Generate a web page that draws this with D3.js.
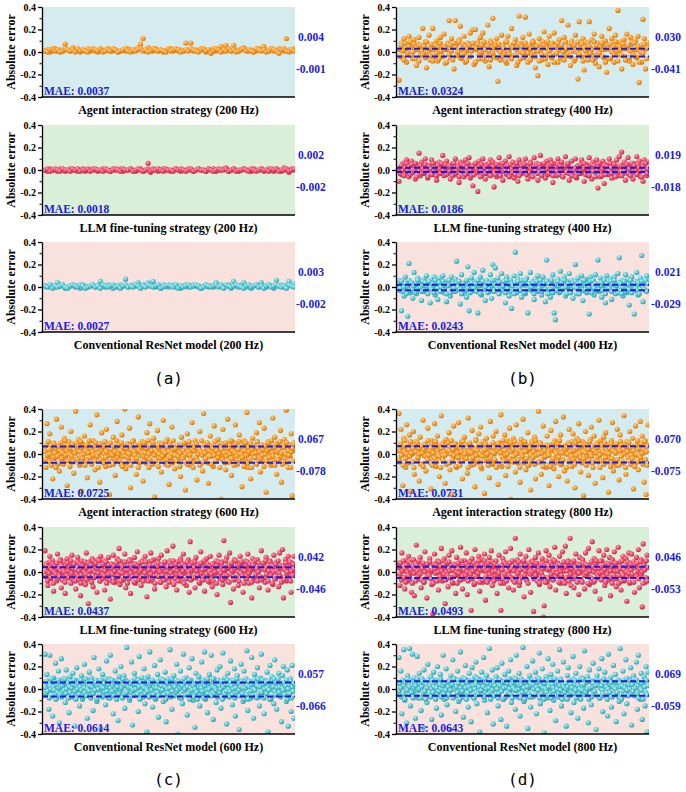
<!DOCTYPE html>
<html>
<head>
<meta charset="utf-8">
<script src="https://cdn.jsdelivr.net/npm/d3@7/dist/d3.min.js"></script>
<style>
  body { margin: 0; background: #fff; }
  text { font-family: "Liberation Serif", "Times New Roman", serif; font-weight: bold; }
</style>
</head>
<body>
<svg id="chart"></svg>
<script>
"use strict";

// absolute error per sample, in units of 0.01
// "...Core" lists hold the samples inside the dense band around zero
var agent200 = [1,2,0,1,3,1,2,1,7,2,1,4,1,2,0,2,1,3,1,2,1,0,2,1,2,3,1,1,2,0,1,2,1,3,2,1,2,4,7,12,1,4,2,1,3,1,2,0,1,2,3,1,2,1,2,1,8,2,8,1,2,1,3,2,0,1,2,3,1,2,5,1,6,2,1,6,2,1,3,4,2,1,2,0,1,3,2,5,1,2,3,1,2,3,2,1,12,2,1,3];
var agent200Core = [1,0,2,3,1,2,0,1,3,2,1,2,0,3,1,2,1,0,2,3,2,1,3,0,1,2,1,3,2,0,1,2,3,1,0,2,1,2,3,1,2,0,1,3,2,1,2,1,0,3,1,2,3,2,0,1,2,1,3,2,1,0,2,3,1,2,-1,1,3,2,0,2,1,3,1,2,0,1,2,3,1,2,1,0,3,2,1,2,0,1,3,2,1,-1,2,3,1,0,2,1];
var llm200 = [0,-1,1,0,0,-1,1,0,-1,0,1,0,0,-1,0,1,-1,0,0,1,0,-1,0,1,0,0,-1,1,0,0,1,-1,0,0,1,0,-1,0,1,-1,0,6,-2,1,0,-1,0,1,0,0,-1,0,1,0,-1,0,0,1,0,-1,0,1,0,0,-1,1,0,1,-1,0,0,1,2,-1,0,1,0,-1,0,1,0,0,-1,1,0,0,1,-1,0,1,0,-1,1,0,-1,2,0,-2,1,0];
var llm200Core = [0,1,-1,0,1,0,-1,1,0,0,-1,1,0,1,-1,0,0,1,-1,0,1,0,0,-1,1,0,-1,0,1,0,-1,1,0,0,1,-1,0,1,0,-1,0,1,-1,0,0,1,0,-1,1,0,0,-1,1,0,1,0,-1,0,1,-1,0,1,0,0,-1,1,0,-1,0,1,0,0,1,-1,0,1,-1,0,0,1,0,-1,1,0,-1,0,1,0,0,-1,1,0,1,-1,0,0,1,-1,0,1];
var resnet200 = [1,0,2,1,0,4,1,2,-1,0,1,2,0,1,-1,2,1,0,1,2,0,1,5,1,0,2,1,-1,1,0,2,1,7,0,1,2,1,4,0,2,1,4,1,5,0,1,-1,2,1,0,1,2,0,1,-1,1,2,0,1,2,1,0,-1,1,2,0,1,0,4,1,2,0,1,2,-1,5,1,0,2,4,1,0,-1,1,2,0,4,1,0,2,1,-1,6,1,2,0,1,5,2,3];
var resnet200Core = [1,0,2,-1,1,0,1,2,0,-1,1,2,1,0,2,1,-1,0,1,2,0,1,-1,2,1,0,1,2,0,1,-1,1,2,0,1,0,2,1,-1,1,0,2,1,0,1,2,-1,0,1,2,1,0,2,-1,1,0,1,2,0,1,2,1,-1,0,2,1,0,1,2,0,1,-1,2,1,0,1,2,1,0,-1,1,2,0,1,2,0,1,-1,1,2,0,1,2,1,0,1,-1,2,1,0];

var agent400 = [-25,3,8,-5,12,1,-9,6,14,-2,4,-6,11,2,-12,7,13,-3,5,21,-1,9,-14,3,15,-7,2,21,6,-4,10,-8,1,13,-3,5,16,-10,2,8,
  28,-5,12,4,-15,28,7,-2,11,23,-6,3,14,-9,1,8,-4,17,5,20,-11,20,2,9,-6,13,-1,17,4,-8,6,24,-13,10,1,30,-4,7,12,-26,
  3,-7,15,5,-2,9,-10,14,1,-5,21,6,-3,11,-12,4,32,-6,8,13,-1,31,5,-9,16,2,-4,10,7,-14,3,-21,12,1,-7,9,18,-3,6,-11,
  14,2,-5,8,17,-2,4,-9,11,5,28,-6,13,1,-3,24,7,-12,10,3,-8,15,2,-24,27,6,-4,12,-16,9,1,-7,27,4,11,-3,16,-10,5,8,
  -13,2,14,7,-5,10,-18,3,21,-6,12,1,-9,15,6,37,-2,9,-15,4,11,-4,16,3,-8,13,7,-11,2,10,-5,14,-27,6,-9,29,12,-15,3,8];
var agent400Core = [2,-4,6,1,-7,8,3,-1,5,9,-3,0,7,-6,4,2,-8,6,1,-2,5,-5,9,0,3,-3,7,-8,2,6,-1,4,-6,8,1,-4,5,3,-9,7,
  -2,6,1,-7,8,4,-3,0,9,-5,2,7,-1,5,-8,3,6,-4,1,8,4,-9,3,7,-2,0,6,-6,9,2,-3,5,1,-7,8,-1,4,6,-5,2,
  7,0,-4,5,3,-8,9,1,-2,6,-6,4,8,-3,2,-9,7,0,5,-1,-5,8,2,-1,6,-7,3,9,0,-4,5,1,-8,7,-2,4,6,-6,3,9,
  1,-3,7,4,-9,5,-1,8,2,-5,6,0,-7,9,3,-2,4,-4,8,1,6,-6,0,9,-2,3,7,-8,4,1,-3,8,5,-1,2,-7,9,-5,6,0,
  -1,5,8,-4,2,-9,6,3,-6,7,0,4,-2,9,1,-8,5,2,-3,7,3,-7,4,6,-5,1,9,-2,8,-4,2,5,-9,0,6,-1,7,3,-6,4];
var llm400 = [-10,2,-4,6,1,-3,9,0,-6,4,8,-2,3,-8,5,1,15,-5,7,0,-3,10,2,-7,4,-1,9,-4,6,1,-9,3,7,-2,5,13,-5,1,8,-3,
  4,-8,2,6,-1,10,-4,3,-11,7,0,5,-6,9,2,-3,11,-7,4,-14,1,6,-2,-19,8,3,-5,10,0,-8,5,2,-4,9,-1,7,-15,3,-6,4,
  11,-2,6,-9,1,8,-4,3,12,-5,2,7,-7,0,5,-10,9,1,-3,6,-2,10,4,-8,1,7,-5,3,11,-1,6,-9,2,13,-4,5,0,-7,8,3,
  -3,9,1,-11,6,2,-5,10,-1,4,7,-6,3,12,-2,5,-9,1,8,-4,2,10,-7,4,0,-3,9,6,-10,1,5,-5,11,2,-8,7,3,-2,9,-16,
  4,-6,1,8,-12,5,2,-4,10,0,-7,6,3,-1,9,-5,12,4,16,-3,7,-9,2,11,-4,5,1,-8,6,3,12,-2,8,-6,4,-10,9,1,-5,7];
var llm400Core = [1,-3,4,0,-5,2,6,-1,3,-4,5,-2,0,6,-6,2,-1,4,-3,1,-2,5,0,-6,3,1,-4,6,-1,2,-5,4,1,-3,6,0,-2,5,-4,3,
  4,-1,2,-5,6,-3,0,3,-6,1,5,-2,4,-4,2,6,-1,0,-5,3,-4,6,1,-2,3,-6,5,0,2,-3,4,-1,6,-5,1,3,-2,-4,5,0,
  2,-5,3,6,-1,0,-3,4,-6,5,1,-2,3,-4,6,2,-5,0,4,-1,5,0,-4,2,-2,6,1,-6,3,-1,4,-3,5,2,-5,0,6,-2,1,-4,
  -3,4,6,-5,0,2,-1,5,-4,3,1,-6,2,4,-2,6,-3,1,-5,0,0,-6,2,4,-3,5,-1,1,6,-4,3,-2,-5,2,5,-1,4,-6,0,3,
  6,-2,-5,1,4,-4,3,0,-1,6,-3,2,5,-6,1,-2,3,4,-5,2,-1,3,5,-3,1,-5,6,-2,4,0,-4,5,2,-1,-6,3,0,6,-3,1];
var resnet400 = [6,-3,-21,4,-8,9,1,-26,21,-5,3,-10,13,2,-6,8,-2,5,-12,1,7,-4,10,-1,4,-14,6,0,9,-7,2,-11,5,8,-3,10,-5,1,-13,6,
  3,-8,9,0,-4,7,23,-2,5,-15,11,1,-6,4,-9,18,-21,2,8,-3,13,-1,5,-23,3,9,-7,15,0,-12,6,2,-4,11,-10,20,4,17,-2,8,
  -6,1,12,-3,5,-14,9,2,-8,6,-19,3,10,31,-5,7,-1,12,-9,4,2,-6,8,-23,1,13,-3,5,-11,7,0,10,-4,3,-7,9,2,-13,24,-2,
  6,-9,4,11,-23,-29,1,7,-5,14,3,-2,9,-8,5,0,12,-4,6,-10,2,20,-6,8,1,-3,10,-12,4,7,-5,3,-24,9,-1,6,-7,11,2,24,
  -4,8,-9,1,5,-14,10,3,-2,7,-11,4,9,-6,2,12,26,-3,6,-8,1,11,-5,7,-16,3,9,-1,-24,5,13,-7,2,8,28,-13,4,-3,10,6];
var resnet400Core = [2,-1,5,-4,0,3,-6,1,6,-3,4,-2,1,-5,3,6,-1,0,-4,5,-3,4,1,-6,5,0,-2,3,-5,6,2,-1,4,-4,0,5,-3,2,-6,1,
  6,-5,2,3,-1,-4,4,0,5,-2,-6,3,1,-3,6,-1,2,-5,4,0,-1,3,-4,6,1,-6,2,5,-2,0,4,-5,3,-3,1,6,-4,2,0,-2,
  4,0,-3,1,5,-5,6,-1,2,-4,3,1,-6,4,-2,5,0,-3,6,2,-5,6,1,-2,3,-1,0,4,-6,2,5,-3,-1,6,-4,1,3,-2,5,-6,
  3,-2,6,-5,0,2,-3,5,1,-4,4,-1,6,0,-6,3,2,-5,1,4,0,5,-1,3,-6,4,1,-3,6,-2,2,-4,0,5,-5,6,-1,3,-3,1,
  -2,1,4,-3,6,-6,3,0,-1,5,-4,2,6,-2,1,-5,4,3,-6,0,5,-4,0,2,-2,6,-5,1,3,-1,-3,4,-6,2,5,0,-2,6,-4,3];

var agent600 = [3,-12,27,-5,1,18,-2,6,-22,10,-4,2,31,-9,5,-15,0,24,-7,4,14,-3,8,-28,1,11,-6,20,3,-1,-17,7,38,-4,2,13,-10,5,-33,9,
  0,16,-5,4,-21,8,2,26,-8,1,12,-3,-14,6,35,-2,9,-25,3,19,-6,1,7,-11,22,4,-1,-36,10,3,-4,15,0,-19,6,29,-3,8,2,-9,
  17,-2,5,40,-13,1,9,-6,23,-30,4,0,12,-5,7,-18,2,33,-8,6,-1,11,-24,3,8,-4,19,1,-12,27,5,-7,2,14,-38,6,0,21,-3,10,
  4,-16,7,30,-2,1,-9,13,3,-27,9,-5,24,0,6,-13,2,42,-6,8,1,-20,15,3,-4,9,-32,5,18,-1,7,-10,2,28,-7,4,12,-3,-23,0,
  6,20,-8,2,-15,36,1,-5,10,3,-26,8,16,-2,4,-11,25,0,-6,7,13,-3,2,-40,9,22,-1,5,-14,1,31,-7,8,3,-19,11,0,-4,26,6,
  -9,4,17,-2,1,-29,7,12,-5,3,37,-12,0,9,-22,5,14,-1,2,-8,19,6,-3,28,-16,1,8,-6,23,4,-34,0,11,-2,7,-10,3,32,-5,15,
  2,-18,9,1,-4,21,-25,6,0,13,-7,39,4,-12,8,-2,18,-37,3,10];
var agent600Core = [2,-5,8,-1,11,-7,0,4,-10,6,-3,9,1,-12,5,-2,7,-8,3,10,-4,1,-9,6,12,-1,3,-6,8,0,-11,5,-2,9,-7,4,1,-3,10,-5,
  7,-8,2,11,-1,-4,6,0,-10,3,8,-6,1,12,-3,5,-9,2,-1,7,-6,10,4,-2,-12,1,9,-5,3,6,-8,0,11,-3,2,-7,8,5,-10,1,
  4,-1,-9,7,2,-5,12,-3,0,8,-6,3,10,-11,1,6,-2,-8,5,9,-3,0,7,-10,4,11,-6,2,-1,8,-4,5,-12,3,9,-7,1,6,-2,10,
  1,-8,5,-3,12,0,-5,7,3,-9,10,-1,4,-6,2,8,-11,0,6,-4,9,-2,3,-7,1,11,-5,6,-10,2,7,-3,0,-8,12,4,-1,5,-6,8,
  -2,6,-11,1,8,-4,3,10,-7,0,5,-9,2,11,-1,-5,7,4,-12,3,6,-3,9,-6,0,4,-10,2,12,-1,-7,8,1,-4,5,10,-8,3,-2,7,
  -9,2,5,-1,11,-6,3,8,-3,0,-12,6,4,-5,9,1,-8,10,-2,2,5,-7,0,12,-4,3,7,-10,1,9,-2,-6,4,11,-5,0,8,-3,6,-11,
  3,10,-1,-8,6,2,-5,9,-12,4,0,7,-3,1,-9,11,5,-6,2,-4,8,-1,4,-11,7,0,-6,3,10,-3,5,-8,12,1,-2,6,-10,9,-5,2,
  -5,4,11,-2,1,-9,8,6,-4,0,10,-7,3,-1,7,-12,2,5,-6,9];
var llm600 = [19,-4,8,-12,2,14,-6,0,10,-17,5,1,-8,16,3,-2,11,-14,6,-1,9,-19,4,12,-5,1,7,-10,15,2,-3,8,-15,0,13,-7,4,-21,10,1,
  -2,6,-11,17,3,-28,9,-5,1,12,-13,4,7,-1,-18,11,2,-8,14,5,-3,10,-16,1,8,-6,13,3,-24,7,-2,15,0,-9,5,12,-4,21,-11,2,
  9,-7,3,16,-14,1,6,-3,11,-19,4,8,-1,13,-10,2,18,-5,7,0,-12,10,3,-6,14,1,-22,5,9,-2,17,-8,4,11,-15,0,6,-4,12,2,
  -9,15,1,-5,8,3,-13,19,0,-7,10,4,-2,23,-11,6,1,-16,9,3,-4,12,-8,2,16,-1,7,-12,5,11,-18,27,0,-6,9,3,-14,13,-2,6,
  1,-10,18,4,-5,8,-17,2,12,-3,6,-9,14,0,-13,7,3,-1,10,-20,5,15,-6,2,9,-11,28,1,-4,13,-8,3,17,-27,6,0,-15,11,2,-5,
  8,-12,4,14,-2,7,-18,1,10,-6,3,16,-10,0,5,-23,12,2,-7,9,-3,11,1,-14,6,19,-5,3,8,-9,13,0,-16,4,10,-2,7,-11,15,1,
  -6,9,2,-13,17,-4,5,20,-23,3,11,-8,1,14,-3,6,-18,8,0,14];
var llm600Core = [-3,6,1,-8,4,-1,9,-5,2,7,-10,0,5,-2,8,-6,3,-4,10,1,5,-7,2,0,-9,6,-3,8,1,-5,4,10,-1,-6,3,7,-8,2,-2,9,
  -4,1,7,-10,3,5,-6,0,9,-2,-7,4,8,-3,1,6,-9,2,10,-5,0,8,-4,3,-1,10,-8,5,2,-6,7,-3,1,9,-10,4,-2,6,-7,3,
  7,-2,-9,5,1,-5,8,3,-3,10,0,-8,6,-1,4,-6,9,2,-4,-10,2,-6,10,-1,6,-4,3,-9,7,1,-3,5,-7,8,0,-5,2,9,-8,4,
  -1,9,-5,4,-8,2,6,-2,10,-6,3,1,-10,7,-3,5,8,-4,0,-9,6,-3,3,-7,9,0,-5,1,4,-9,8,-1,5,-4,10,2,-6,7,-2,1,
  -8,4,-2,10,-4,7,1,-10,5,3,-6,9,0,-3,6,-7,2,8,-5,4,9,-5,1,-3,6,-9,4,8,-1,2,-7,10,-4,3,-2,7,-8,0,5,-6,
  -2,7,-8,3,0,5,-10,6,9,-4,1,-1,8,-7,4,2,-5,10,-3,6,4,-9,6,-2,8,1,-4,-7,3,10,-6,5,0,-8,7,-1,9,-3,2,-10,
  1,5,-6,9,-3,-1,7,2,-9,4,6,-5,10,-2,3,-8,0,8,-4,5,-7,3,8,-5,2,10,-2,4,-8,1,9,-3,6,-10,5,0,-6,7,1,-4,
  10,-1,-4,6,-9,3,5,-7,2,8,-2,0,4,-6,9,-8,1,-3,7,3];
var resnet600 = [31,-5,13,2,-18,30,7,-1,-24,10,4,23,-8,1,16,-30,6,27,-3,9,2,-12,17,0,5,-21,11,3,-7,14,1,-33,8,19,-4,6,-15,2,12,-9,
  4,22,-2,7,-26,1,15,-6,10,3,-19,28,0,8,-11,5,18,-3,-35,6,13,-1,4,-14,25,2,-8,9,30,-4,1,-22,7,16,-2,5,-28,11,0,20,
  -6,3,12,-17,8,37,-1,6,-10,2,24,-32,4,14,-5,9,1,-20,29,3,-7,10,0,18,-13,5,-38,11,2,33,-4,7,-16,1,21,-9,6,13,-25,4,
  26,-2,8,-11,3,15,-29,1,9,-6,35,4,-18,0,12,-3,7,22,-40,5,-8,16,2,-13,31,6,-1,10,-23,3,19,-5,8,27,-10,1,-34,14,4,-2,
  11,-15,5,24,-4,0,33,-9,7,-21,2,13,-6,30,1,-27,9,4,-12,17,-3,6,20,-17,1,32,-7,10,3,-31,14,0,-5,25,8,-14,2,18,-24,5,
  12,-2,-36,7,22,1,-11,16,-4,9,34,-19,3,6,-8,28,0,-26,13,4,-6,19,2,-15,10,31,-3,5,-22,8,1,15,-38,4,21,-9,11,0,-13,26,
  3,-18,7,14,-5,2,-29,12,20,-1,6,-11,17,-33,4,9,-20,21,1,-26];
var resnet600Core = [1,-4,7,-2,5,-8,3,0,9,-6,2,-1,6,-9,4,-3,8,1,-5,2,-7,3,6,-1,9,-4,0,5,-8,2,-3,7,1,-6,4,8,-2,-9,3,0,
  5,-5,2,8,-1,-7,4,1,-3,9,-6,0,6,-2,3,-8,7,2,-4,5,-1,6,-9,3,0,4,-5,8,2,-7,1,5,-3,9,-2,-6,4,7,-8,1,
  8,-2,3,-6,5,0,-9,2,6,-4,7,-1,1,-8,9,3,-5,4,-3,6,2,-8,5,1,-3,7,-1,-6,9,0,4,-5,8,2,-9,6,-2,3,-7,1,
  -4,9,0,-2,6,-7,3,5,-1,8,-5,2,-8,4,1,-3,7,-6,0,9,3,-1,8,-5,2,-9,6,0,-4,5,1,-7,9,-2,4,-6,2,8,-3,-1,
  7,-6,1,4,-8,3,-2,9,0,-5,6,2,-4,8,-9,1,5,-1,3,-7,0,5,-3,-9,7,2,-6,4,1,-2,8,-8,3,6,-1,9,-4,0,5,-5,
  -6,2,9,-4,1,-1,5,-7,8,3,-3,0,7,-9,2,6,-5,4,-2,8,4,-7,-2,6,3,-5,0,8,-8,1,9,-3,5,-1,-6,2,7,-4,1,-9,
  6,1,-5,3,-9,7,2,-2,4,-6,0,8,-1,5,-8,3,9,-7,2,-3,-3,8,4,-8,0,6,-4,1,7,-1,-9,3,5,-6,2,9,-2,-5,6,1,
  9,-3,2,-7,5,1,-1,6,-5,3,8,-9,0,4,-4,7,-8,2,-2,5];

var agent800 = [36,-7,22,3,-28,14,1,-12,26,5,-2,17,-33,8,0,20,-18,4,11,-5,2,-24,15,6,-9,30,-1,9,-15,3,23,-6,1,-31,12,4,-3,27,-11,7,
  16,0,-20,5,34,-4,10,2,-26,13,-8,1,19,-14,6,-36,3,25,-2,9,-12,4,28,-6,1,11,-22,7,15,-3,2,-17,32,0,8,-10,21,-5,3,-29,
  13,5,-7,18,-1,24,-13,2,9,-35,6,14,-4,1,-21,29,3,-9,16,0,-6,20,4,-27,10,2,35,-11,7,-2,17,-19,1,12,-5,23,-40,6,3,14,
  8,-16,26,1,-8,5,-25,13,0,31,-4,9,-14,2,19,-10,6,-32,11,4,-1,15,-22,7,3,38,-7,10,-18,2,25,-3,5,-12,16,1,-28,8,21,-6,
  4,-13,12,29,-2,6,-20,1,17,-9,3,33,-15,7,0,-24,10,22,-4,5,-11,18,2,-30,9,14,-5,27,1,-16,6,11,-37,3,20,-2,8,-19,4,13,
  24,-8,1,16,-26,5,10,-3,30,-12,2,7,-21,15,0,19,-6,3,-34,9,-4,12,28,-15,6,1,-10,22,4,-23,17,0,8,-7,34,2,-18,11,5,-3,
  20,-9,3,14,-31,7,25,-1,10,-14,4,29,-6,16,1,-25,12,-36,8,26];
var agent800Core = [-5,3,9,-1,6,-10,2,12,-4,0,7,-8,4,-2,11,1,-7,5,-12,8,2,-6,10,-3,0,5,-9,7,1,-11,4,8,-2,6,-5,12,-1,3,-8,9,
  -10,1,6,-4,11,-7,3,0,-2,8,-12,5,9,-6,2,-1,7,-9,4,10,3,-8,0,12,-5,4,-1,9,-11,6,1,-3,7,-10,5,2,-6,11,-2,0,
  8,-4,5,-12,2,10,-7,1,6,-3,-9,4,12,-1,3,-6,8,0,-11,7,-2,11,-6,4,9,-1,0,-10,5,7,-4,2,-8,10,1,-5,6,-12,3,9,
  5,-9,1,7,-3,12,-6,3,-1,8,0,-11,6,-4,10,2,-7,4,-2,11,-7,0,8,-5,3,-12,9,1,-2,6,-8,11,2,-4,7,-10,4,5,-1,-6,
  10,-3,2,-9,12,-1,5,-7,0,4,9,-5,1,-11,6,3,-2,8,-10,1,-1,7,-11,3,5,-4,10,-8,2,0,-6,9,-3,12,-9,4,1,-5,7,6,
  4,-12,6,0,-7,8,2,-2,11,-5,3,-9,10,-1,5,-6,12,0,-3,8,-8,2,-4,9,1,-10,7,4,-6,11,0,-2,6,-12,3,8,-5,1,9,-7,
  6,-1,12,-6,4,2,-9,10,-3,1,7,-7,0,5,-11,9,-4,3,-8,2,1,9,-5,5,-10,3,11,-2,8,-8,4,0,-12,7,2,-3,10,-6,6,-1,
  -4,6,3,-11,8,0,-7,12,-1,5,-3,9,1,-9,4,11,-5,2,-10,7];
var llm800 = [8,-12,3,17,-5,1,-15,10,2,-8,14,-3,6,-18,0,11,-21,4,24,-6,9,-2,13,-14,5,1,-9,18,3,-23,7,-4,12,0,-11,-37,6,16,-7,2,
  10,-16,4,-1,21,-8,3,12,-28,0,7,-13,15,2,-5,19,-10,6,1,-19,13,-3,8,-7,22,1,-15,5,10,-2,17,-20,4,9,-6,-34,12,2,-11,20,
  0,7,-4,14,-17,3,11,-9,1,16,-25,6,2,-7,13,-1,19,-12,5,9,-3,10,-19,4,15,-6,-34,2,12,-10,6,18,-2,8,-14,1,21,-5,9,-16,
  3,30,-8,11,0,-12,16,5,-4,9,-22,2,14,-7,7,20,-1,-18,10,4,-35,6,13,-3,1,17,-11,8,-6,12,-40,-30,4,19,-9,2,15,-13,0,7,
  11,-5,22,-16,3,8,-2,14,-10,5,18,-7,1,23,-19,6,10,-4,30,-12,2,9,-14,4,16,-1,7,-20,13,0,-8,11,3,-15,17,5,-3,21,-11,6,
  1,27,-9,12,-17,4,8,-5,19,-24,2,10,-2,15,-12,6,20,0,-7,13,-21,3,11,-6,18,1,-13,7,22,-3,9,-16,4,14,-8,0,12,-26,5,17,
  -10,2,16,-4,9,-18,6,13,-1,20,-14,3,11,-31,25,8,-9,4,15,-6];
var llm800Core = [4,-2,8,-7,1,10,-5,3,-9,6,0,-3,9,-6,2,7,-10,5,-1,3,-8,6,1,-4,10,-2,5,-7,3,8,-9,0,4,-5,7,2,-3,9,-6,1,
  2,-10,7,3,-1,6,-8,0,9,-4,5,1,-6,10,-2,4,-7,8,-3,-5,9,1,-5,4,-9,2,7,-3,6,0,-10,8,-1,3,-7,10,-4,5,2,-6,
  -3,7,0,-8,5,9,-2,4,-6,1,8,-10,3,-4,6,-1,10,-9,2,5,6,-7,3,10,-4,1,-9,8,2,-2,4,-5,9,0,-8,7,1,-6,5,-3,
  -1,4,-10,6,2,-6,9,-2,7,-8,0,5,-3,8,-5,3,10,-7,1,-9,7,-4,5,-1,9,-9,2,6,-5,3,10,-3,1,-7,4,-10,8,0,-2,6,
  0,9,-6,2,-3,8,-8,4,1,-10,6,-1,7,-4,3,5,-9,10,-5,2,-6,3,8,-2,5,-7,0,10,-4,2,-1,7,-9,6,1,-3,4,-8,9,-10,
  5,-5,1,9,-8,4,-2,3,8,-6,10,0,-4,2,-9,7,-1,6,-7,3,-9,8,2,-3,7,-1,6,-10,4,1,-5,9,-6,5,0,-8,3,10,-2,-4,
  3,-1,10,-7,0,6,-4,2,-9,8,-2,4,7,-5,1,9,-10,5,-3,8,8,-6,4,1,-10,5,3,-8,10,-3,2,-7,6,0,-4,9,-1,-9,7,2,
  -2,5,-9,7,4,-4,8,1,-6,3,9,-2,0,-10,6,2,-5,10,-8,4];
var resnet800 = [28,-5,16,-22,2,35,-10,7,-30,12,1,36,-15,5,31,-3,10,-26,4,29,-8,14,2,-19,9,-34,17,0,6,-12,22,3,-6,11,-27,1,15,-4,8,-17,
  20,-2,5,13,-23,3,30,-9,1,18,-14,7,0,-36,12,4,26,-7,9,-20,2,16,-11,6,33,-3,10,-25,1,21,-5,8,-16,14,0,-29,19,4,-8,11,
  24,-13,3,9,-38,6,15,-1,28,-10,2,12,-21,5,36,-6,1,17,-31,7,-4,11,19,-15,3,8,-27,23,0,-9,13,5,-33,2,16,-2,26,-12,6,10,
  1,-18,30,4,-7,14,-24,9,2,37,-11,6,-3,20,-35,1,12,-16,8,25,-6,3,15,-22,10,1,32,-13,5,18,-2,-39,7,11,-8,27,0,-19,13,4,
  22,-10,6,-28,2,16,-4,35,9,-15,1,24,-7,3,-33,12,19,-1,5,-21,8,29,-12,4,14,-5,-26,1,20,-9,10,2,-17,34,6,-3,11,-30,17,0,
  -14,7,23,-2,5,-36,12,3,18,-8,1,27,-20,9,15,-6,4,-24,31,2,10,-16,6,21,-3,13,-29,2,8,-11,36,4,-7,16,-22,1,26,-13,5,9,
  -1,19,-32,7,12,-5,3,24,-18,30,6,-9,14,-27,2,11,-15,20,-38,15];
var resnet800Core = [-2,5,1,-7,8,-4,3,-9,6,0,-1,9,-5,2,7,-3,4,-8,1,6,3,-6,9,-1,0,5,-8,2,7,-4,6,-2,-9,4,1,8,-5,3,-7,0,
  8,-3,2,6,-9,1,-5,7,-2,4,9,-7,0,3,-4,5,-1,-8,6,2,-5,7,-1,3,4,-8,9,0,-6,2,-3,8,5,-9,1,6,-2,4,-7,9,
  1,-9,6,-4,2,7,-1,-6,8,3,-8,0,4,-3,9,-5,2,7,-2,-1,6,2,-7,9,-3,0,5,-5,1,8,-9,4,-1,6,-6,3,8,-4,0,-8,
  -4,8,3,-2,6,-9,1,7,-7,2,5,-3,9,0,-5,4,-8,1,6,-1,9,-1,-6,5,0,3,-8,4,-3,7,1,-9,6,-2,2,8,-4,-7,5,3,
  -7,4,0,8,-5,2,6,-1,9,-8,3,-4,7,1,-9,5,0,-3,8,-6,2,-5,8,-8,4,1,-2,9,-6,5,0,6,-7,3,-1,7,-9,4,2,-3,
  5,0,-9,2,7,-6,4,-3,1,9,-4,8,-1,-8,6,3,-5,0,9,-2,-1,9,4,-5,-3,6,0,8,-9,1,7,-7,2,5,-4,-2,3,9,-6,4,
  7,-8,1,3,-1,-4,9,-6,5,2,-9,0,8,-3,4,6,-7,2,-5,1,0,6,-3,7,-7,5,2,-9,3,-2,8,1,-5,9,-1,-6,4,0,7,-4,
  4,-2,9,-6,1,8,-4,3,-8,6,0,-1,5,-9,7,2,-3,8,-5,3];

// panel texts and values, in drawing order (a, b, c, d; three per group)
var panelSeries = [agent200, llm200, resnet200, agent400, llm400, resnet400,
                   agent600, llm600, resnet600, agent800, llm800, resnet800];
var panelCores = [agent200Core, llm200Core, resnet200Core, agent400Core, llm400Core, resnet400Core,
                  agent600Core, llm600Core, resnet600Core, agent800Core, llm800Core, resnet800Core];
var panelTitles = [
  "Agent interaction strategy (200 Hz)", "LLM fine-tuning strategy (200 Hz)", "Conventional ResNet model (200 Hz)",
  "Agent interaction strategy (400 Hz)", "LLM fine-tuning strategy (400 Hz)", "Conventional ResNet model (400 Hz)",
  "Agent interaction strategy (600 Hz)", "LLM fine-tuning strategy (600 Hz)", "Conventional ResNet model (600 Hz)",
  "Agent interaction strategy (800 Hz)", "LLM fine-tuning strategy (800 Hz)", "Conventional ResNet model (800 Hz)"];
var maeLabels = ["0.0037", "0.0018", "0.0027", "0.0324", "0.0186", "0.0243",
                 "0.0725", "0.0437", "0.0614", "0.0731", "0.0493", "0.0643"];
var upperLimits = ["0.004", "0.002", "0.003", "0.030", "0.019", "0.021",
                   "0.067", "0.042", "0.057", "0.070", "0.046", "0.069"];
var lowerLimits = ["-0.001", "-0.002", "-0.002", "-0.041", "-0.018", "-0.029",
                   "-0.078", "-0.046", "-0.066", "-0.075", "-0.053", "-0.059"];
var groupLabels = ["(a)", "(b)", "(c)", "(d)"];
var yTicks = [-0.4, -0.2, 0, 0.2, 0.4];
var yMinorTicks = [-0.3, -0.1, 0.1, 0.3];

var settings = {
    width: 686,
    height: 792,
    panel: { width: 253, height: 90 },
    colLeft: [42, 396],
    rowTop: [7, 125, 242, 409, 527, 644],
    labelY: [384, 785],
    radius: 2.6,
    blue: '#1c1cdf',
    styles: [
        { bg: '#d4ecef', light: '#ffd391', base: '#f59b2a', dark: '#d9770c' },
        { bg: '#d9efd8', light: '#ffa6b8', base: '#ec4b6d', dark: '#c72a4d' },
        { bg: '#f9e1dd', light: '#c4f3f6', base: '#58c7d2', dark: '#2ea2ae' }
    ]
};

var svg = d3.select('#chart')
    .attr('width', settings.width)
    .attr('height', settings.height);

var defs = svg.append('defs');

settings.styles.forEach((s, i) => {
    var g = defs.append('radialGradient')
        .attr('id', 'ball-' + i)
        .attr('cx', '38%').attr('cy', '35%').attr('r', '65%');
    g.append('stop').attr('offset', '0%').attr('stop-color', s.light);
    g.append('stop').attr('offset', '55%').attr('stop-color', s.base);
    g.append('stop').attr('offset', '100%').attr('stop-color', s.dark);
});

function drawPoints(plot, values, x0, x1, y, kind, cls) {
    var x = d3.scaleLinear().domain([0, values.length - 1]).range([x0 + 3, x1 - 1]);
    plot.selectAll('circle.' + cls)
        .data(values)
        .enter()
        .append('circle')
        .attr('class', cls)
        .attr('cx', (d, i) => x(i))
        .attr('cy', d => y(d / 100))
        .attr('r', settings.radius)
        .attr('fill', `url(#ball-${kind})`);
}

panelSeries.forEach((values, p) => {
    var group = Math.floor(p / 3),
        kind = p % 3,
        col = group % 2,
        row = Math.floor(group / 2) * 3 + kind;

    var x0 = settings.colLeft[col],
        x1 = x0 + settings.panel.width,
        top = settings.rowTop[row],
        bottom = top + settings.panel.height,
        style = settings.styles[kind];

    var y = d3.scaleLinear().domain([-0.4, 0.4]).range([bottom, top]);

    var panel = svg.append('g').attr('class', 'panel');

    defs.append('clipPath').attr('id', 'clip-' + p)
        .append('rect')
        .attr('x', x0).attr('y', top)
        .attr('width', x1 - x0).attr('height', bottom - top);

    panel.append('rect')
        .attr('x', x0).attr('y', top)
        .attr('width', x1 - x0).attr('height', bottom - top)
        .attr('fill', style.bg);

    var plot = panel.append('g').attr('clip-path', `url(#clip-${p})`);

    drawPoints(plot, values, x0, x1, y, kind, 'pt');
    drawPoints(plot, panelCores[p], x0, x1, y, kind, 'core');

    // dashed limit lines (hidden inside the point band at 200 Hz)
    var hi = +upperLimits[p], lo = +lowerLimits[p];
    if (Math.abs(hi) > 0.01) {
        plot.selectAll('.limit')
            .data([hi, lo])
            .enter()
            .append('line')
            .attr('class', 'limit')
            .attr('x1', x0).attr('x2', x1)
            .attr('y1', d => y(d)).attr('y2', d => y(d))
            .attr('stroke', settings.blue)
            .attr('stroke-width', 2)
            .attr('stroke-dasharray', '6,3');
    }

    // axes
    panel.append('g')
        .attr('transform', `translate(${x0},0)`)
        .call(d3.axisLeft(y).tickValues(yMinorTicks).tickSize(2.5).tickFormat(''))
        .call(g => g.select('.domain').remove())
        .selectAll('line').attr('stroke-width', 1);

    var axis = panel.append('g')
        .attr('transform', `translate(${x0},0)`)
        .call(d3.axisLeft(y).tickValues(yTicks).tickSize(4).tickSizeOuter(0).tickPadding(2)
            .tickFormat(d => d.toFixed(1)));
    axis.select('.domain').attr('stroke-width', 1.3);
    axis.selectAll('line').attr('stroke-width', 1.3);
    axis.selectAll('text')
        .style('font-family', '"Liberation Serif", serif')
        .style('font-weight', 'bold')
        .style('font-size', '10px')
        .attr('fill', '#000');

    panel.append('line')
        .attr('x1', x0 - 0.6).attr('x2', x1)
        .attr('y1', bottom).attr('y2', bottom)
        .attr('stroke', '#000')
        .attr('stroke-width', 1.6);

    panel.append('text')
        .attr('transform', `translate(${x0 - 27},${(top + bottom) / 2}) rotate(-90)`)
        .attr('text-anchor', 'middle')
        .style('font-size', '12px')
        .text('Absolute error');

    panel.append('text')
        .attr('x', (x0 + x1) / 2)
        .attr('y', bottom + 17)
        .attr('text-anchor', 'middle')
        .style('font-size', '12px')
        .text(panelTitles[p]);

    panel.append('text')
        .attr('x', x0 + 2)
        .attr('y', bottom - 2)
        .attr('fill', settings.blue)
        .style('font-size', '11.5px')
        .text('MAE: ' + maeLabels[p]);

    panel.append('text')
        .attr('x', x1 + (col ? 6 : 3))
        .attr('y', top + 34)
        .attr('fill', settings.blue)
        .style('font-size', '11.5px')
        .text(upperLimits[p]);

    panel.append('text')
        .attr('x', x1 + (col ? 2 : 1))
        .attr('y', top + 66)
        .attr('fill', settings.blue)
        .style('font-size', '11.5px')
        .text(lowerLimits[p]);
});

svg.append('g')
    .selectAll('text')
    .data(groupLabels)
    .enter()
    .append('text')
    .attr('x', (d, i) => settings.colLeft[i % 2] + settings.panel.width / 2)
    .attr('y', (d, i) => settings.labelY[Math.floor(i / 2)])
    .attr('text-anchor', 'middle')
    .style('font-family', '"DejaVu Sans Mono", monospace')
    .style('font-weight', 'normal')
    .style('font-size', '16px')
    .text(d => d);
</script>
</body>
</html>
